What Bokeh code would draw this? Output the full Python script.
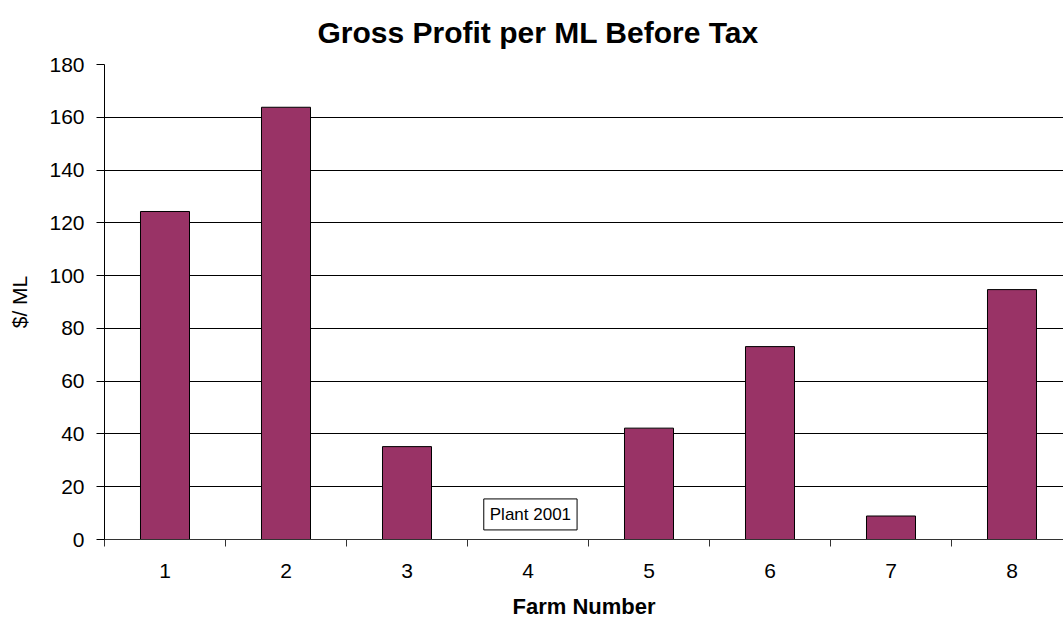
from bokeh.plotting import figure
from bokeh.models import Range1d, FixedTicker, Label
from bokeh.embed import file_html
from bokeh.resources import INLINE

farms = [1, 2, 3, 4, 5, 6, 7, 8]
profit = [124.3, 163.8, 35.2, 0, 42.2, 73.1, 8.9, 94.7]
y_ticks = [0, 20, 40, 60, 80, 100, 120, 140, 160, 180]
title_text = "Gross Profit per ML Before Tax"
x_label = "Farm Number"
y_label = "$/ ML"
note_text = "Plant 2001"

FONT = "Liberation Sans"

p = figure(width=1063, height=625, output_backend="svg", toolbar_location=None,
           x_range=Range1d(0.5, 0.5 + 959 / 121), y_range=Range1d(0, 180),
           min_border_left=104, min_border_right=0, min_border_top=64, min_border_bottom=86,
           title=title_text)
p.outline_line_color = None
p.background_fill_color = "white"
p.border_fill_color = "white"

p.title.align = "left"
p.title.offset = 213
p.title.standoff = 28
p.title.vertical_align = "top"
p.title.text_font = FONT
p.title.text_font_size = "30px"
p.title.text_font_style = "bold"
p.title.text_color = "black"

p.vbar(x=farms, top=profit, width=0.405, fill_color="#993366", line_color="black", line_width=1)

# y axis
p.yaxis.ticker = FixedTicker(ticks=y_ticks)
p.yaxis.axis_line_color = "black"
p.yaxis.major_tick_line_color = "black"
p.yaxis.major_tick_out = 8
p.yaxis.major_tick_in = 0
p.yaxis.minor_tick_line_color = None
p.yaxis.major_label_standoff = 12
p.yaxis.major_label_text_font = FONT
p.yaxis.major_label_text_font_size = "21px"
p.yaxis.major_label_text_color = "black"
p.yaxis.axis_label = y_label
p.yaxis.axis_label_text_font = FONT
p.yaxis.axis_label_text_font_size = "21px"
p.yaxis.axis_label_text_font_style = "normal"
p.yaxis.axis_label_text_color = "black"
p.yaxis.axis_label_standoff = 15

# x axis
p.xaxis.ticker = FixedTicker(ticks=farms, minor_ticks=[f - 0.5 for f in farms])
p.xaxis.axis_line_color = "#333333"
p.xaxis.major_tick_out = 0
p.xaxis.major_tick_in = 0
p.xaxis.major_tick_line_color = None
p.xaxis.minor_tick_line_color = "#333333"
p.xaxis.minor_tick_out = 7
p.xaxis.minor_tick_in = 0
p.xaxis.major_label_standoff = 17
p.xaxis.major_label_text_font = FONT
p.xaxis.major_label_text_font_size = "21px"
p.xaxis.major_label_text_color = "black"
p.xaxis.axis_label = x_label
p.xaxis.axis_label_text_font = FONT
p.xaxis.axis_label_text_font_size = "22px"
p.xaxis.axis_label_text_font_style = "bold"
p.xaxis.axis_label_text_color = "black"
p.xaxis.axis_label_standoff = 13

# grid
p.xgrid.grid_line_color = None
p.ygrid.grid_line_color = "black"
p.ygrid.grid_line_width = 1

# note box
p.add_layout(Label(x=4.02, y=9.5, text=note_text, text_align="center",
                   text_baseline="middle", text_font=FONT, text_font_size="17px",
                   text_color="black", background_fill_color="white",
                   border_line_color="black", border_line_width=1, padding=6))

open("out.html", "w").write(file_html(p, INLINE))
